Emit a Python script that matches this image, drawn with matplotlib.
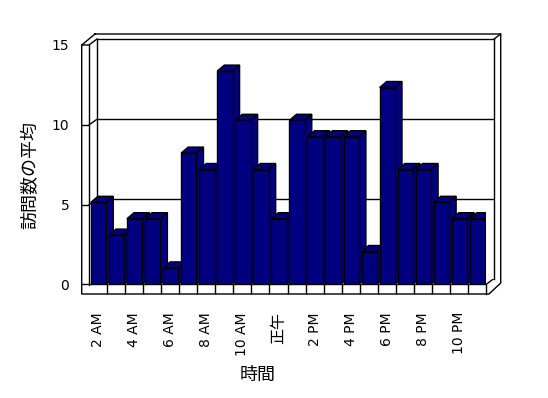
import matplotlib.pyplot as plt
from matplotlib.patches import Polygon, ConnectionPatch

hours = ['2 AM', '3 AM', '4 AM', '5 AM', '6 AM', '7 AM', '8 AM', '9 AM',
         '10 AM', '11 AM', '正午', '1 PM', '2 PM', '3 PM', '4 PM', '5 PM',
         '6 PM', '7 PM', '8 PM', '9 PM', '10 PM', '11 PM']
visits = [5, 3, 4, 4, 1, 8, 7, 13, 10, 7, 4, 10, 9, 9, 9, 2, 12, 7, 7, 5, 4, 4]
y_ticks = [0, 5, 10, 15]
y_title = '訪問数の平均'
x_title = '時間'

W, H = 548, 398
plt.rcParams['font.family'] = ['DejaVu Sans', 'Noto Sans CJK JP']
navy = '#000080'

fig = plt.figure(figsize=(W / 100, H / 100), dpi=100)
fig.patch.set_facecolor('white')


def box(l, t, r, b):
    # pixel box (top-left origin) -> figure fraction
    return [l / W, 1 - b / H, (r - l) / W, (b - t) / H]


# frame of the 3d box, drawn in pixel space
bg = fig.add_axes([0, 0, 1, 1], zorder=0)
bg.set_xlim(0, W)
bg.set_ylim(H, 0)
bg.axis('off')
frame = [
    [(95, 34), (500.7, 34), (500.7, 283), (489, 294), (81.7, 294), (81.7, 45), (95, 34)],
    [(81.7, 45), (89, 45), (97, 39)],
    [(89, 45), (89, 284.5)],
    [(494, 39), (500.7, 34)],
    [(81.7, 284.5), (486, 284.5), (494, 278.5)],
    [(486, 284.5), (486, 294)],
]
bg.add_patch(Polygon(frame[0][:-1], closed=True, fc='white', ec='none'))
for pts in frame:
    xs, ys = zip(*pts)
    bg.plot(xs, ys, color='black', lw=1, solid_joinstyle='miter')

# back wall with gridlines
axw = fig.add_axes(box(97, 39.3, 494, 279.3), zorder=1)
axw.set_ylim(0, 15)
axw.set_xlim(0, 1)
axw.patch.set_facecolor('white')
axw.set_xticks([])
axw.set_yticks([])
for s in axw.spines.values():
    s.set_linewidth(1)
axw.spines['bottom'].set_visible(False)
for v in y_ticks[1:-1]:
    axw.axhline(v, color='black', lw=1)

# front face of the left wall, carries the value labels
axl = fig.add_axes(box(81.7, 45, 89, 284.5), zorder=2)
axl.set_ylim(0, 15)
axl.set_xlim(0, 1)
axl.patch.set_visible(False)
for s in axl.spines.values():
    s.set_visible(False)
axl.set_xticks([])
axl.set_yticks(y_ticks)
axl.set_yticklabels([str(v) for v in y_ticks], fontsize=10)
axl.tick_params(axis='y', length=0, pad=9)
for v in y_ticks[1:-1]:
    axl.axhline(v, color='black', lw=1)
    fig.add_artist(ConnectionPatch(xyA=(0, v), coordsA=axw.get_yaxis_transform(),
                                   xyB=(1, v), coordsB=axl.get_yaxis_transform(),
                                   color='black', lw=1, zorder=2))

# bars
ax = fig.add_axes(box(89, 284.3 - 16.4 * 15, 486, 284.3), zorder=3)
ax.set_xlim(-0.5, len(hours) - 0.5)
ax.set_ylim(0, 15)
ax.patch.set_visible(False)
for s in ax.spines.values():
    s.set_visible(False)

xs = [i + 0.03 for i in range(len(hours))]
bw = 0.85
dx, dy = 0.39, 0.366
bars = ax.bar(xs, visits, width=bw, color=navy, edgecolor='black', lw=1)
for i, (x, v) in enumerate(zip(xs, visits)):
    l, r = x - bw / 2, x + bw / 2
    top = Polygon([(l, v), (r, v), (r + dx, v + dy), (l + dx, v + dy)],
                  fc=navy, ec='black', lw=1, zorder=3 + i)
    side = Polygon([(r, 0), (r, v), (r + dx, v + dy), (r + dx, dy)],
                   fc=navy, ec='black', lw=1, zorder=3 + i)
    ax.add_patch(top)
    ax.add_patch(side)
    bars[i].set_zorder(3.5 + i)

# floor cell dividers
ax.vlines([k - 0.5 for k in range(1, len(hours))], 0, -9.7 / 16.4,
          color='black', lw=1, clip_on=False)

ax.set_xticks(range(0, len(hours), 2))
ax.set_xticklabels(hours[::2], rotation=90, fontsize=10)
for lab in ax.get_xticklabels():
    if lab.get_text() == '正午':
        lab.set_fontsize(11.5)
ax.tick_params(axis='x', length=0, pad=20)
ax.set_yticks([])

fig.text(30 / W, 1 - 175 / H, y_title, rotation=90, fontsize=13,
         ha='center', va='center')
fig.text(258 / W, 1 - 375 / H, x_title, fontsize=13, ha='center', va='center')

fig.savefig('out.png', dpi=100, facecolor='white')
